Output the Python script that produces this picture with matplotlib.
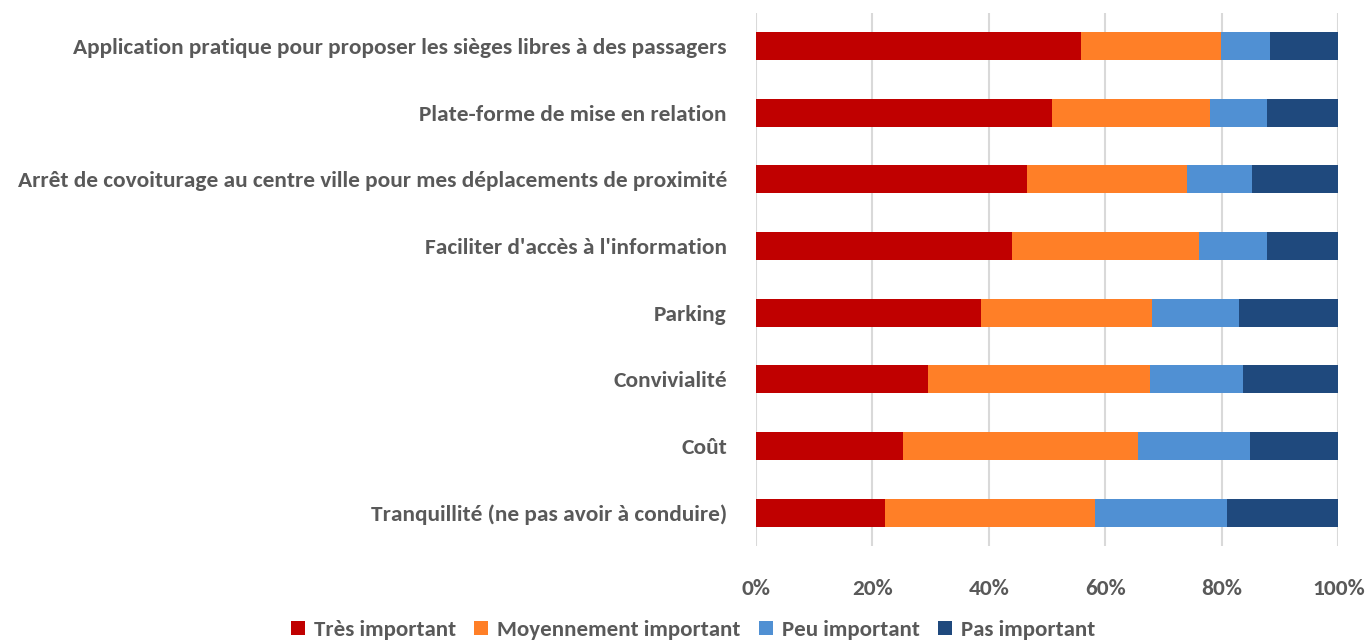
import matplotlib.pyplot as plt
import numpy as np

categories = ["Application pratique pour proposer les sièges libres à des passagers",
              "Plate-forme de mise en relation",
              "Arrêt de covoiturage au centre ville pour mes déplacements de proximité",
              "Faciliter d'accès à l'information",
              "Parking",
              "Convivialité",
              "Coût",
              "Tranquillité (ne pas avoir à conduire)"]
series_names = ["Très important", "Moyennement important", "Peu important", "Pas important"]
tres = [0.559, 0.508, 0.466, 0.439, 0.387, 0.296, 0.253, 0.222]
moyen = [0.240, 0.271, 0.274, 0.321, 0.293, 0.381, 0.403, 0.360]
peu = [0.084, 0.099, 0.112, 0.118, 0.149, 0.160, 0.192, 0.227]
pas = [0.117, 0.122, 0.148, 0.122, 0.171, 0.163, 0.152, 0.191]
colors = ["#C00000", "#FF7F27", "#5090D3", "#1F497D"]

plt.rcParams['font.family'] = ['Carlito', 'DejaVu Sans']
txtcol = "#595959"

fig = plt.figure(figsize=(13.67, 6.41), dpi=100)
ax = fig.add_axes([0.553, 0.148, 0.426, 0.832])

y = np.arange(len(categories))
left = np.zeros(len(categories))
for vals, name, c in zip([tres, moyen, peu, pas], series_names, colors):
    ax.barh(y, vals, left=left, height=0.42, color=c, label=name, zorder=3)
    left = left + np.array(vals)

ax.set_ylim(len(categories) - 0.5, -0.5)
ax.set_xlim(0, 1)
ax.set_xticks(np.linspace(0, 1, 6))
ax.set_xticklabels(["0%", "20%", "40%", "60%", "80%", "100%"])
ax.set_yticks(y)
ax.set_yticklabels(categories)
ax.grid(axis="x", color="#d9d9d9", linewidth=1.5, zorder=0)
for s in ax.spines.values():
    s.set_visible(False)
ax.tick_params(axis="both", length=0, colors=txtcol, labelsize=16.8)
ax.tick_params(axis="x", pad=24)
ax.tick_params(axis="y", pad=21)
for lab in ax.get_xticklabels() + ax.get_yticklabels():
    lab.set_fontweight("bold")

leg = fig.legend(loc="center", bbox_to_anchor=(0.507, 0.017), ncol=4, frameon=False,
                 handlelength=0.6, handleheight=0.6, handletextpad=0.4, columnspacing=0.8,
                 prop={"size": 16.5, "weight": "bold"})
for t in leg.get_texts():
    t.set_color(txtcol)

fig.savefig("out.png", dpi=100)
